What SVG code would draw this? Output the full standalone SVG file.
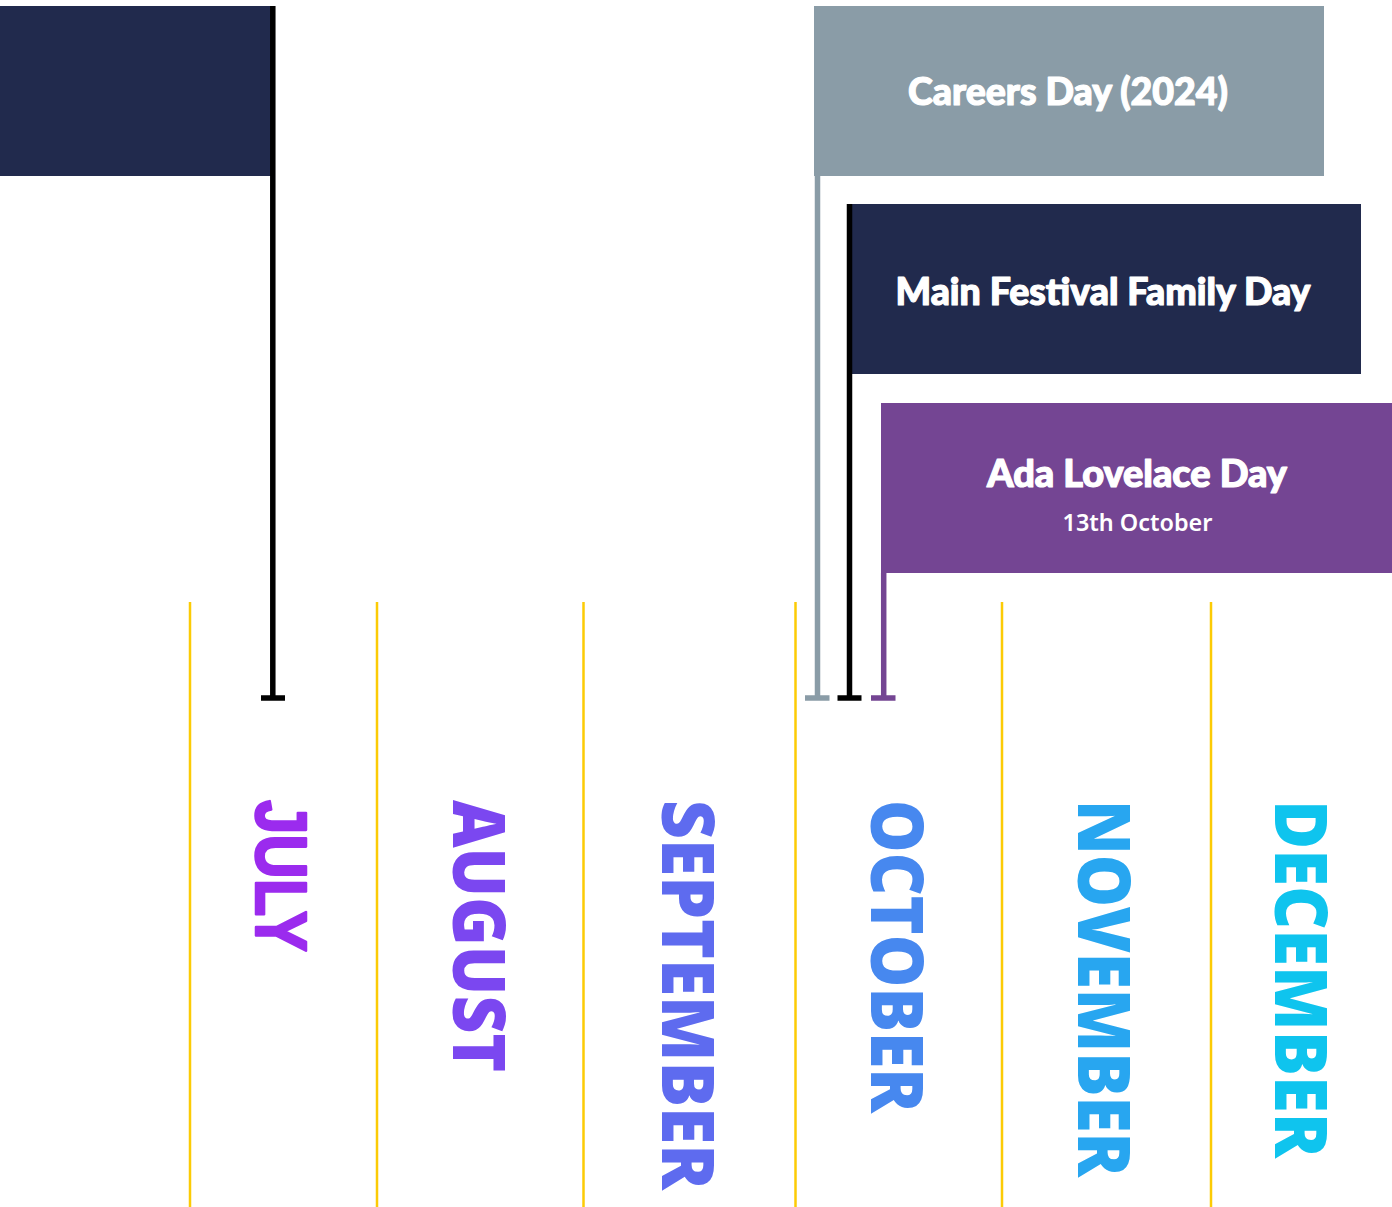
<svg xmlns="http://www.w3.org/2000/svg" width="1392" height="1207" viewBox="0 0 1392 1207">
<style>
.title{font-family:Lato,"Open Sans",sans-serif;font-weight:900;font-size:37px;fill:#ffffff;stroke:#ffffff;stroke-width:1.2;stroke-linejoin:round;text-anchor:middle}
.sub{font-family:"Noto Sans","Open Sans",sans-serif;font-weight:600;font-size:24px;fill:#ffffff;text-anchor:middle}
.month{font-family:"Open Sans","Liberation Sans",sans-serif;font-weight:800;font-size:72px}
.grid{stroke:#fccb05;stroke-width:2.5;fill:none}
.pole{stroke-width:5.5;fill:none}
</style>
<rect width="1392" height="1207" fill="#ffffff"/>
<g id="grid">
<line class="grid" x1="190" y1="602" x2="190" y2="1207"/>
<line class="grid" x1="377" y1="602" x2="377" y2="1207"/>
<line class="grid" x1="583.5" y1="602" x2="583.5" y2="1207"/>
<line class="grid" x1="795.5" y1="602" x2="795.5" y2="1207"/>
<line class="grid" x1="1002" y1="602" x2="1002" y2="1207"/>
<line class="grid" x1="1211" y1="602" x2="1211" y2="1207"/>
</g>
<g id="node-july-flag">
<rect x="0" y="6" width="271" height="170" fill="#212a4d"/>
</g>
<g id="node-careers-day">
<rect x="814" y="6" width="510" height="170" fill="#8a9ca7"/>
<text class="title" x="1068" y="105" textLength="320" lengthAdjust="spacingAndGlyphs">Careers Day (2024)</text>
</g>
<g id="node-main-festival">
<rect x="848" y="204" width="513" height="170" fill="#212a4d"/>
<text class="title" x="1103" y="305" textLength="415" lengthAdjust="spacingAndGlyphs">Main Festival Family Day</text>
</g>
<g id="node-ada-lovelace">
<rect x="881" y="403" width="511" height="170" fill="#744593"/>
<text class="title" x="1137" y="487" textLength="300" lengthAdjust="spacingAndGlyphs">Ada Lovelace Day</text>
<text class="sub" x="1137.5" y="530.5" textLength="150" lengthAdjust="spacingAndGlyphs">13th October</text>
</g>
<g id="connectors">
<path class="pole" stroke="#000000" d="M272.8 6V698M261 698H285"/>
<path class="pole" stroke="#8a9ca7" d="M817.5 176V698M805 698H829.5"/>
<path class="pole" stroke="#000000" d="M849.5 204V698M837.5 698H861.5"/>
<path class="pole" stroke="#744593" d="M883.7 573V698M871 698H895.5"/>
</g>
<g id="months">
<text class="month" fill="#9b2bee" style="font-family:'Liberation Sans',sans-serif;font-weight:700;stroke:#9b2bee;stroke-width:2.5;stroke-linejoin:round" transform="translate(256,800) rotate(90)" textLength="152" lengthAdjust="spacingAndGlyphs">JULY</text>
<text class="month" fill="#7b47f0" transform="translate(453,800) rotate(90)" textLength="272" lengthAdjust="spacingAndGlyphs">AUGUST</text>
<text class="month" fill="#5e6bef" transform="translate(662,800) rotate(90)" textLength="390" lengthAdjust="spacingAndGlyphs">SEPTEMBER</text>
<text class="month" fill="#4788ef" transform="translate(871,800) rotate(90)" textLength="313" lengthAdjust="spacingAndGlyphs">OCTOBER</text>
<text class="month" fill="#28a6f0" transform="translate(1078,800) rotate(90)" textLength="377" lengthAdjust="spacingAndGlyphs">NOVEMBER</text>
<text class="month" fill="#0fc4ee" transform="translate(1275,800) rotate(90)" textLength="358" lengthAdjust="spacingAndGlyphs">DECEMBER</text>
</g>
</svg>
